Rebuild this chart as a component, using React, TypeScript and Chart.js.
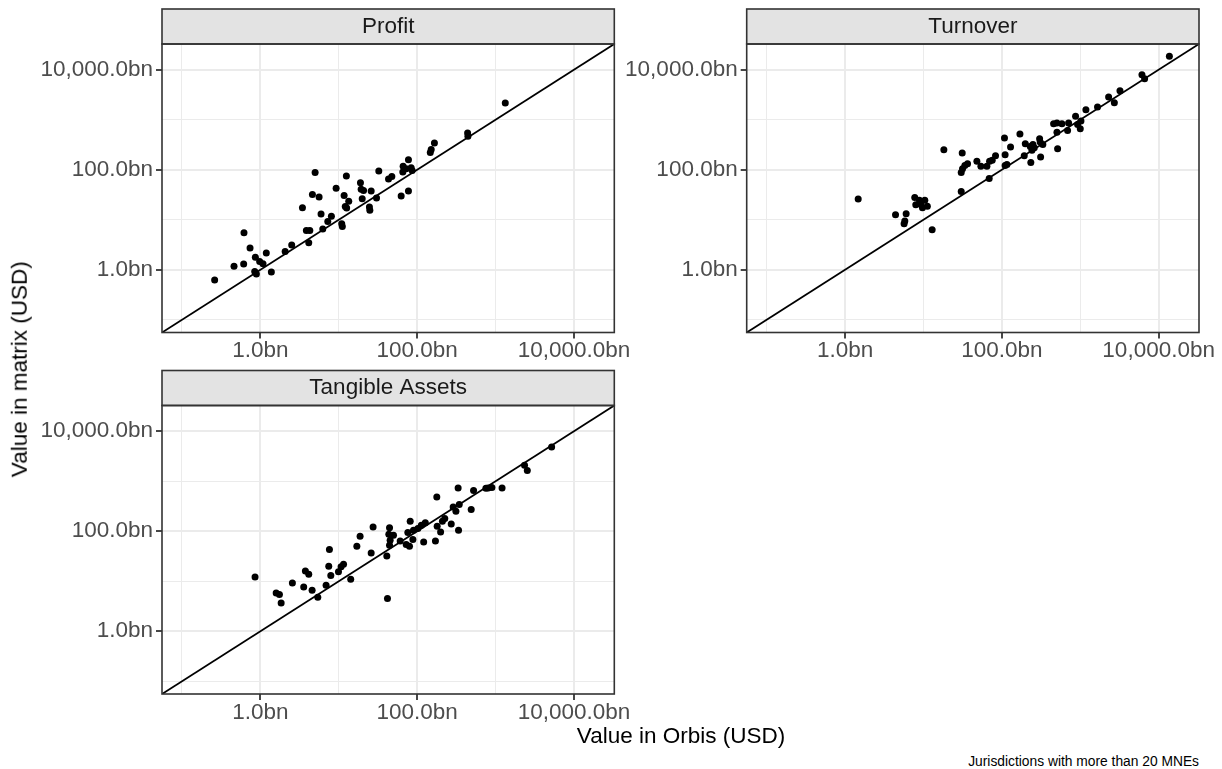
import React, { useEffect, useRef } from 'react';
import { Chart, registerables } from 'chart.js';

Chart.register(...registerables);

const FONT = '"Liberation Sans", Arial, Helvetica, sans-serif';

// ---- axis ticks (values in bn USD) ----
const TICK_VALUES = [0.1, 1, 10, 100, 1000, 10000];
const MAJOR_TICKS = [1, 100, 10000];
const MAJOR_LABELS = ['1.0bn', '100.0bn', '10,000.0bn'];
const AXIS_MIN = 0.0556;
const AXIS_MAX = 32700;

// ---- Profit ----
const profitOrbis = [0.261, 0.461, 0.612, 0.618, 0.738, 0.863, 0.847, 0.889, 0.979, 1.08, 1.19, 1.38, 2.07, 2.51, 3.44, 3.86, 4.27, 4.14, 4.61, 4.99, 5.61, 5.94, 6.25, 7.24, 8.05, 9.25, 10.9, 11.1, 11.7, 12.5, 12.1, 13.4, 12.6, 18.9, 19.3, 20.7, 19.9, 25.9, 24.6, 24.9, 30.3, 32.4, 43.1, 47.5, 62.5, 65.6, 66.2, 77.4, 77.4, 83.8, 86.3, 72.4, 147, 151, 166, 440, 444, 1330];
const profitMatrix = [0.621, 1.17, 1.30, 5.50, 2.71, 1.77, 0.927, 0.819, 1.47, 1.32, 2.15, 0.898, 2.33, 3.11, 17.4, 6.12, 6.12, 3.47, 32.1, 88.5, 28.4, 13.0, 6.50, 9.27, 11.8, 42.4, 8.32, 7.36, 30.7, 74.6, 18.5, 23.3, 17.1, 55.0, 40.5, 38.6, 26.3, 37.4, 17.9, 15.4, 27.1, 94.0, 65.0, 73.6, 29.7, 89.7, 118, 159, 37.4, 110, 97.0, 105, 222, 255, 341, 541, 465, 2150];

// ---- Turnover ----
const turnoverOrbis = [1.47, 4.40, 6.01, 5.78, 5.66, 7.74, 7.98, 9.25, 9.70, 10.4, 11.2, 8.89, 12.9, 18.2, 31.2, 30.3, 31.5, 33.7, 36.5, 30.3, 48.0, 54.0, 64.4, 69.7, 75.3, 83.0, 68.9, 108, 110, 110, 116, 129, 170, 193, 199, 230, 242, 249, 259, 303, 308, 333, 234, 312, 457, 504, 583, 504, 514, 689, 710, 871, 925, 1000, 1020, 1180, 1660, 2300, 2720, 3210, 6120, 6620, 13700];
const turnoverMatrix = [25.9, 12.6, 13.2, 9.40, 8.32, 28.0, 20.0, 20.3, 17.4, 24.4, 18.7, 24.4, 6.31, 251, 215, 88.5, 105, 122, 132, 36.9, 147, 117, 117, 147, 154, 191, 67.1, 430, 200, 122, 128, 284, 516, 191, 331, 293, 244, 321, 275, 417, 357, 321, 140, 179, 832, 857, 832, 559, 263, 612, 857, 1170, 807, 661, 940, 1590, 1790, 2840, 2190, 3800, 7940, 6610, 18500];

// ---- Tangible Assets ----
const assetsOrbis = [0.855, 1.59, 1.75, 1.84, 2.56, 3.57, 3.75, 4.14, 4.57, 5.40, 6.89, 7.60, 7.45, 7.91, 9.91, 10.7, 11.5, 14.2, 17.0, 18.7, 25.9, 27.4, 41.8, 41.0, 43.5, 44.4, 45.2, 49.9, 44.4, 60.7, 72.4, 79.8, 76.0, 81.5, 88.1, 89.7, 102, 113, 127, 121, 171, 178, 180, 199, 210, 225, 272, 337, 288, 312, 344, 333, 489, 524, 753, 805, 898, 1210, 2340, 2540, 5190];
const assetsMatrix = [12.2, 5.85, 5.41, 3.69, 9.27, 7.71, 16.1, 13.8, 6.61, 4.79, 8.32, 43.0, 20.0, 13.0, 15.4, 19.4, 21.9, 11.0, 50.1, 79.4, 36.9, 122, 4.50, 32.1, 87.1, 118, 66.1, 83.2, 52.5, 64.1, 54.1, 50.1, 94.0, 159, 68.1, 105, 113, 132, 147, 61.2, 64.1, 486, 126, 97.0, 159, 179, 140, 105, 307, 251, 341, 736, 271, 650, 724, 736, 746, 736, 2090, 1630, 4860];

const X_TITLE = 'Value in Orbis (USD)';
const Y_TITLE = 'Value in matrix (USD)';
const CAPTION = 'Jurisdictions with more than 20 MNEs';

type Frame = {
  left: number; top: number; width: number; height: number;
  plotL: number; plotT: number; plotR: number; plotB: number; stripTop: number;
};

const FRAMES: Frame[] = [
  { left: 0, top: 0, width: 645, height: 385, plotL: 162, plotT: 44, plotR: 614.3, plotB: 332.5, stripTop: 9 },
  { left: 600, top: 0, width: 622, height: 385, plotL: 746.7, plotT: 44, plotR: 1199, plotB: 332.5, stripTop: 9 },
  { left: 0, top: 360, width: 645, height: 409, plotL: 162, plotT: 405.5, plotR: 614.3, plotB: 694, stripTop: 370.5 },
];

const TICK_SIZE = 22.5;
const TICK_COLOR = '#4D4D4D';
const STRIP_FILL = '#E3E3E3';
const BORDER_COLOR = '#333333';
const GRID_COLOR = '#EBEBEB';

function tickLabel(v: number): string {
  const i = MAJOR_TICKS.indexOf(v);
  return i >= 0 ? MAJOR_LABELS[i] : '';
}

function FacetPanel({ title, xs, ys, frame }: { title: string; xs: number[]; ys: number[]; frame: Frame }) {
  const ref = useRef<HTMLCanvasElement | null>(null);
  useEffect(() => {
    const canvas = ref.current;
    if (!canvas) return;
    const { left, top, width, height, plotL, plotT, plotR, plotB, stripTop } = frame;
    const yAxisW = plotL - left;
    const xAxisH = 40;
    const padTop = stripTop - top;
    const titleH = plotT - stripTop;
    const titleLH = 1.2;
    const titlePad = (titleH - TICK_SIZE * titleLH) / 2;
    const padRight = left + width - plotR;
    const padBottom = top + height - plotB - xAxisH;
    const points = xs.map((x, i) => ({ x, y: ys[i] }));

    const facetPlugin = {
      id: 'facetDecor',
      beforeDraw(chart: any) {
        const { ctx, chartArea: a } = chart;
        ctx.save();
        ctx.fillStyle = '#FFFFFF';
        ctx.fillRect(a.left, a.top, a.right - a.left, a.bottom - a.top);
        ctx.fillStyle = STRIP_FILL;
        ctx.fillRect(a.left, padTop, a.right - a.left, a.top - padTop);
        ctx.restore();
      },
      afterDraw(chart: any) {
        const { ctx, chartArea: a } = chart;
        ctx.save();
        ctx.strokeStyle = BORDER_COLOR;
        ctx.lineWidth = 1.6;
        ctx.strokeRect(a.left, padTop, a.right - a.left, a.top - padTop);
        ctx.strokeRect(a.left, a.top, a.right - a.left, a.bottom - a.top);
        ctx.restore();
      },
    };

    const grid = {
      color: GRID_COLOR,
      lineWidth: (c: any) => (c.tick && MAJOR_TICKS.includes(c.tick.value) ? 2 : 1),
      drawTicks: true,
      tickLength: 6,
      tickWidth: 1.8,
      tickColor: (c: any) => (c.tick && MAJOR_TICKS.includes(c.tick.value) ? BORDER_COLOR : 'rgba(0,0,0,0)'),
    };
    const setTicks = (s: any) => {
      s.ticks = TICK_VALUES.map((v) => ({ value: v }));
    };

    const chart = new Chart(canvas, {
      type: 'scatter',
      data: {
        datasets: [
          {
            data: [{ x: AXIS_MIN, y: AXIS_MIN }, { x: AXIS_MAX, y: AXIS_MAX }],
            showLine: true,
            borderColor: '#000000',
            borderWidth: 1.8,
            pointRadius: 0,
            pointHoverRadius: 0,
            fill: false,
          },
          {
            data: points,
            pointRadius: 3.5,
            pointHoverRadius: 3.5,
            pointBackgroundColor: '#000000',
            pointBorderWidth: 0,
            backgroundColor: '#000000',
            borderColor: '#000000',
            borderWidth: 0,
          },
        ],
      } as any,
      options: {
        responsive: false,
        animation: false,
        events: [],
        layout: { padding: { left: 0, top: padTop, right: padRight, bottom: padBottom } },
        plugins: {
          legend: { display: false },
          tooltip: { enabled: false },
          title: {
            display: true,
            text: title,
            fullSize: false,
            color: '#1A1A1A',
            font: { family: FONT, size: TICK_SIZE, weight: 'normal', lineHeight: titleLH },
            padding: { top: titlePad, bottom: titlePad },
          },
        },
        scales: {
          x: {
            type: 'logarithmic',
            position: 'bottom',
            min: AXIS_MIN,
            max: AXIS_MAX,
            bounds: 'data',
            afterBuildTicks: setTicks,
            afterFit: (s: any) => { s.height = xAxisH; },
            grid,
            border: { display: false },
            ticks: {
              autoSkip: false,
              maxRotation: 0,
              minRotation: 0,
              padding: 0,
              color: TICK_COLOR,
              font: { family: FONT, size: TICK_SIZE, lineHeight: 1.1 },
              callback: (v: any) => tickLabel(Number(v)),
            },
          },
          y: {
            type: 'logarithmic',
            position: 'left',
            min: AXIS_MIN,
            max: AXIS_MAX,
            bounds: 'data',
            afterBuildTicks: setTicks,
            afterFit: (s: any) => { s.width = yAxisW; },
            grid,
            border: { display: false },
            ticks: {
              autoSkip: false,
              padding: 3,
              color: TICK_COLOR,
              font: { family: FONT, size: TICK_SIZE, lineHeight: 1.2 },
              callback: (v: any) => tickLabel(Number(v)),
            },
          },
        },
      } as any,
      plugins: [facetPlugin],
    });
    return () => chart.destroy();
  }, [title, xs, ys, frame]);

  return (
    <canvas
      ref={ref}
      width={frame.width}
      height={frame.height}
      style={{ position: 'absolute', left: frame.left, top: frame.top, width: frame.width, height: frame.height }}
    />
  );
}

export default function App() {
  return (
    <div
      style={{
        position: 'fixed', left: 0, top: 0, width: 1222, height: 769,
        background: '#FFFFFF', overflow: 'hidden', fontFamily: FONT,
      }}
    >
      <FacetPanel title="Profit" xs={profitOrbis} ys={profitMatrix} frame={FRAMES[0]} />
      <FacetPanel title="Turnover" xs={turnoverOrbis} ys={turnoverMatrix} frame={FRAMES[1]} />
      <FacetPanel title="Tangible Assets" xs={assetsOrbis} ys={assetsMatrix} frame={FRAMES[2]} />
      <div
        style={{
          position: 'absolute', left: 481, top: 724.5, width: 400, textAlign: 'center',
          fontSize: 22.5, lineHeight: '22.5px', color: '#000000', whiteSpace: 'nowrap',
        }}
      >
        {X_TITLE}
      </div>
      <div
        style={{
          position: 'absolute', left: 20 - 150, top: 369 - 11.25, width: 300, height: 22.5,
          textAlign: 'center', fontSize: 22.5, lineHeight: '22.5px', color: '#000000',
          transform: 'rotate(-90deg)', whiteSpace: 'nowrap',
        }}
      >
        {Y_TITLE}
      </div>
      <div
        style={{
          position: 'absolute', right: 23, top: 754.6, textAlign: 'right',
          fontSize: 13.8, lineHeight: '13.8px', color: '#000000', whiteSpace: 'nowrap',
        }}
      >
        {CAPTION}
      </div>
    </div>
  );
}
